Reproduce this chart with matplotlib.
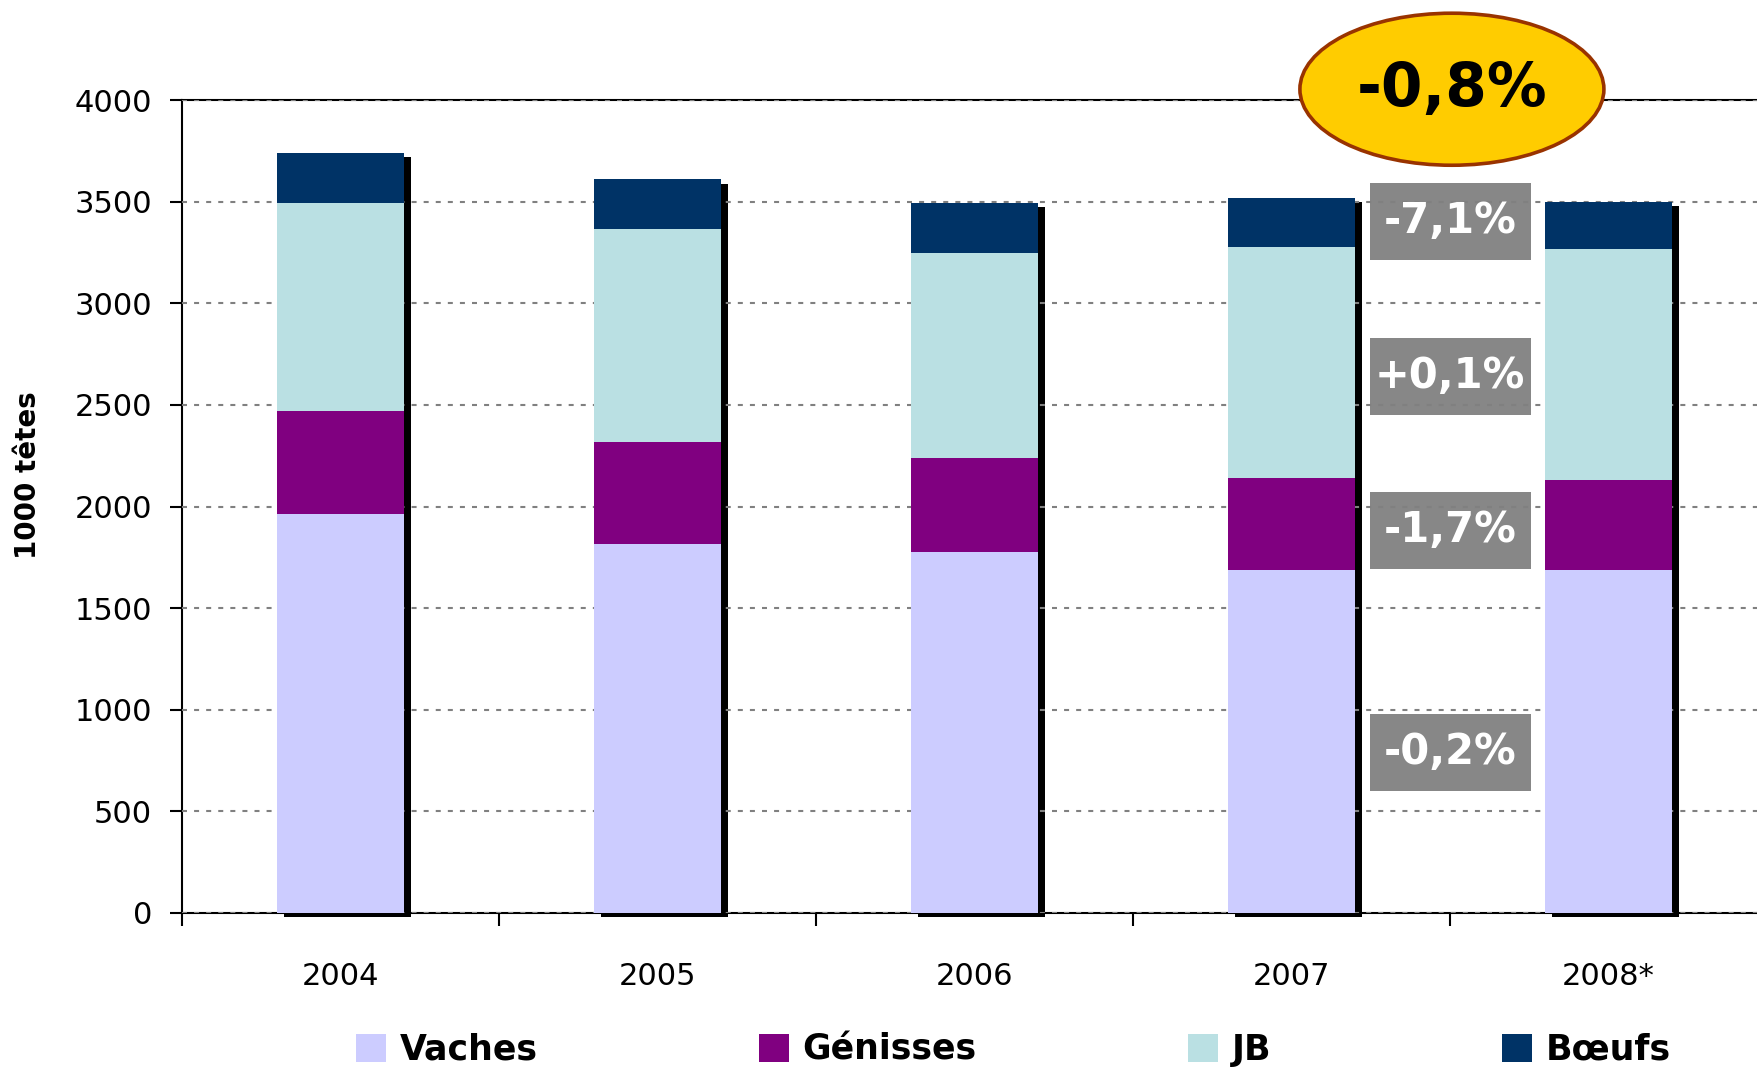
import matplotlib
matplotlib.use("Agg")
import matplotlib.pyplot as plt
from matplotlib.patches import Rectangle, Ellipse, Patch
import numpy as np

# ---------------- data ----------------
years = ["2004", "2005", "2006", "2007", "2008*"]
series_names = ["Vaches", "Génisses", "JB", "Bœufs"]
vaches = [1962, 1815, 1776, 1688, 1686]
genisses = [509, 500, 461, 451, 443]
jb = [1021, 1049, 1010, 1137, 1137]
boeufs = [248, 245, 245, 244, 232]
colors = ["#CCCCFF", "#800080", "#BAE0E3", "#003366"]

change_labels = ["-7,1%", "+0,1%", "-1,7%", "-0,2%"]
change_label_y = [3404, 2641, 1884, 792]
total_change = "-0,8%"

# ---------------- figure ----------------
W, H = 1757, 1068
fig = plt.figure(figsize=(W / 100, H / 100), dpi=100)
ax = fig.add_axes([182 / W, 1 - 913 / H, 1585 / W, 813 / H])

x = np.arange(len(years))
bw = 0.40
dx = 0.022
dy = 20

values = [vaches, genisses, jb, boeufs]
totals = np.sum(values, axis=0)

# shadow
ax.bar(x + dx, totals, bottom=-dy, width=bw, color="black", zorder=2, clip_on=False, linewidth=0)

bottom = np.zeros(len(years))
handles = []
for vals, col, name in zip(values, colors, series_names):
    b = ax.bar(x, vals, bottom=bottom, width=bw, color=col, zorder=3, linewidth=0, label=name)
    handles.append(b)
    bottom = bottom + np.array(vals)

ax.set_xlim(-0.5, 4.5)
ax.set_ylim(0, 4000)
ax.set_yticks(np.arange(0, 4001, 500))
ax.yaxis.grid(True, color="#808080", linestyle=(0, (2.4, 3.4)), linewidth=1.5, zorder=1)
ax.set_axisbelow(False)
for gl in ax.get_ygridlines():
    gl.set_zorder(1)

ax.set_xticks(x)
ax.set_xticklabels(years)
ax.set_xticks(np.arange(-0.5, 4.6, 1.0), minor=True)
ax.tick_params(axis="x", which="major", length=0, pad=35, labelsize=22)
ax.tick_params(axis="x", which="minor", length=9.5, width=1.5, direction="out")
ax.tick_params(axis="y", length=8.6, width=1.5, direction="out", pad=13, labelsize=22)

for s in ["left", "top", "bottom"]:
    ax.spines[s].set_linewidth(1.5)
    ax.spines[s].set_color("black")
ax.spines["right"].set_visible(False)

fig.text(28 / W, 1 - 475 / H, "1000 têtes", rotation=90, ha="center", va="center",
         fontsize=20, fontweight="bold")

# annotation boxes
bx = 3.5
bwid = 161 / 317
bh = 379
for lab, yy in zip(change_labels, change_label_y):
    ax.add_patch(Rectangle((bx - bwid / 2, yy - bh / 2), bwid, bh, facecolor="#878787",
                           edgecolor="none", zorder=0.5))
    ax.text(bx, yy, lab, ha="center", va="center", color="white", fontsize=30,
            fontweight="bold", zorder=5)

# ellipse
ell = Ellipse((3.506, 4053), 0.959, 748, facecolor="#FFCC00", edgecolor="#993300",
              linewidth=2.6, zorder=10, clip_on=False)
ax.add_patch(ell)
ax.text(3.506, 4053, total_change, ha="center", va="center", fontsize=43,
        fontweight="bold", color="black", zorder=11, clip_on=False)

# legend (one item per position)
leg_x = [356, 759, 1188, 1502]
for h, name, col, lx in zip(handles, series_names, colors, leg_x):
    lg = fig.legend([Patch(facecolor=col, edgecolor="none")], [name], loc="center left",
                    bbox_to_anchor=(lx / W, 1 - 1050 / H), frameon=False, borderpad=0,
                    borderaxespad=0, handlelength=0.87, handleheight=0.87,
                    handletextpad=0.38, prop={"size": 25, "weight": "bold"})

fig.savefig("out.png", dpi=100)
